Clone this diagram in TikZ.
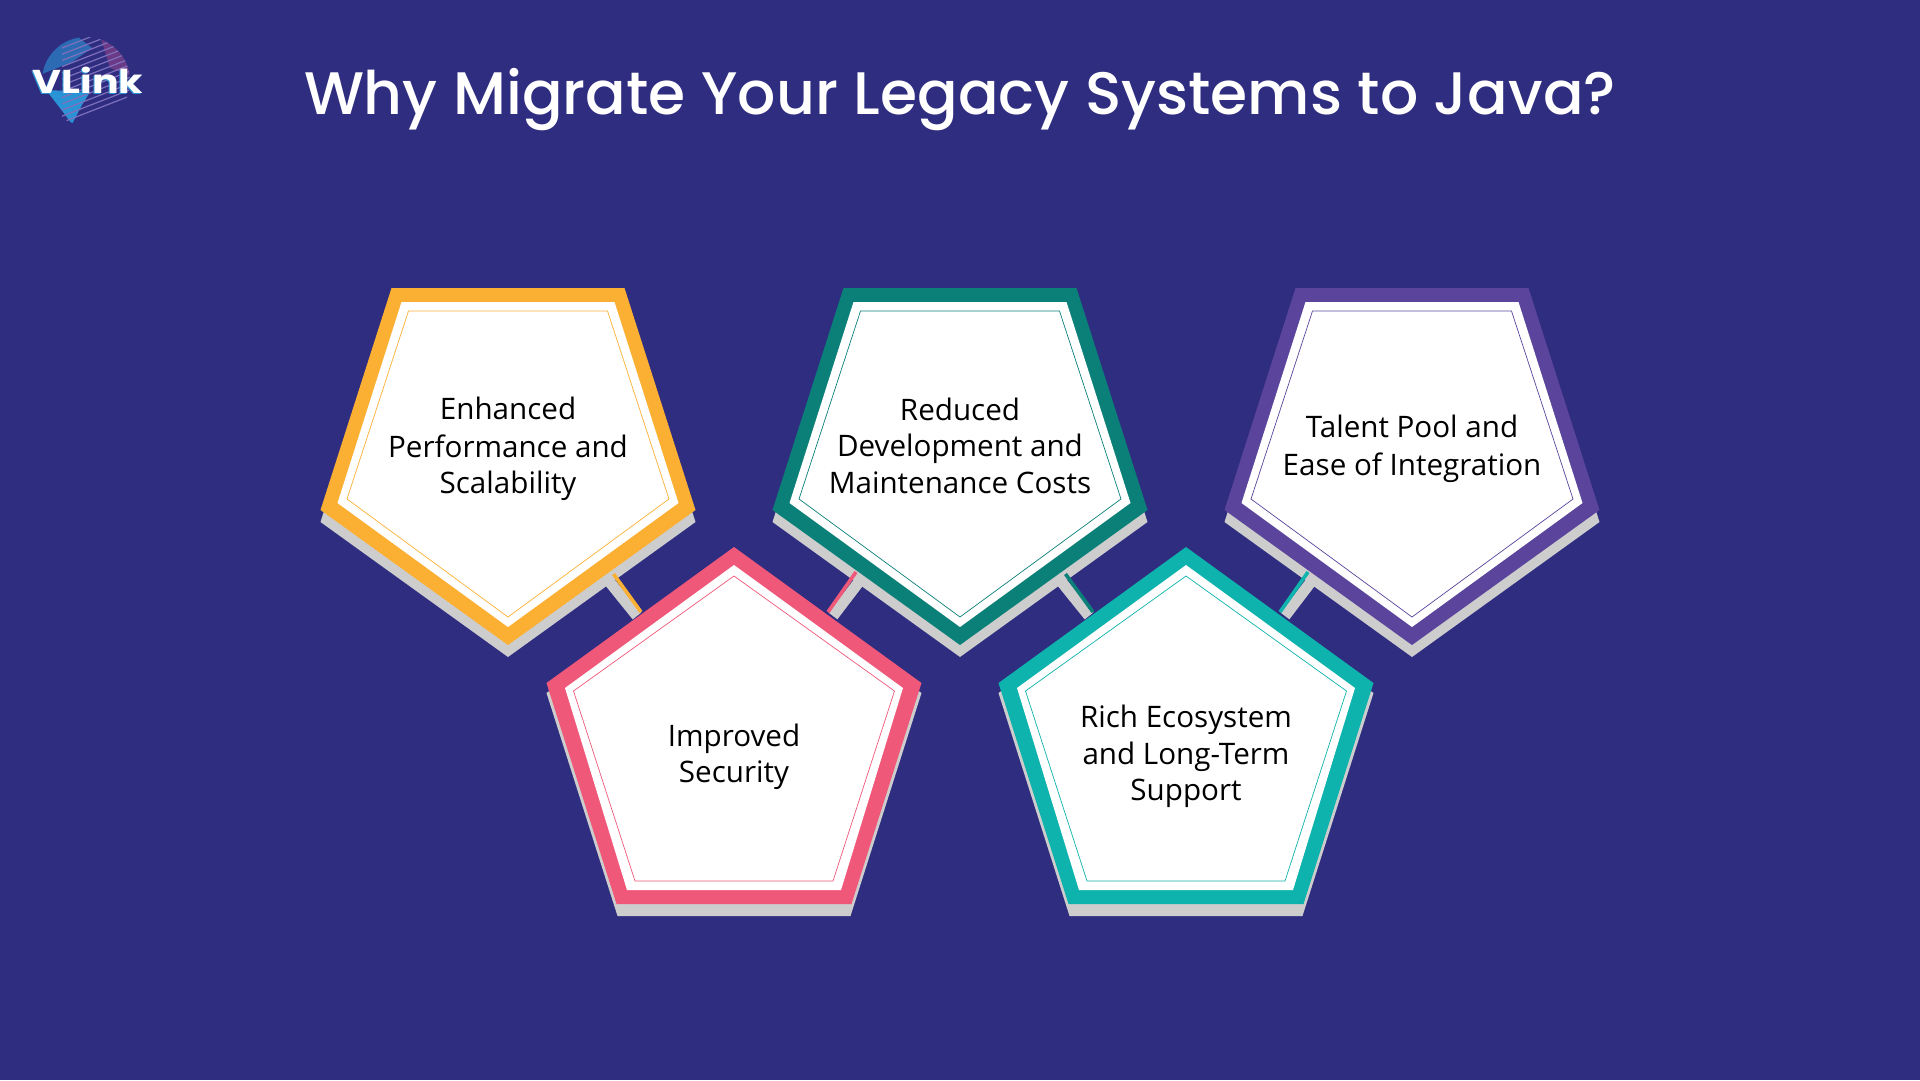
\documentclass[tikz,border=0pt]{standalone}
\usepackage{fontspec}
\setmainfont{Open Sans}
\newfontfamily\titlefont{Poppins}[UprightFont=*-Medium,BoldFont=*-Bold]
\newfontfamily\logofont{Poppins}[UprightFont=*-Bold]
\usetikzlibrary{calc}
\definecolor{bgc}{HTML}{2F2D80}
\definecolor{yel}{HTML}{FBB034}
\definecolor{pnk}{HTML}{F0587A}
\definecolor{grn}{HTML}{0B8079}
\definecolor{pur}{HTML}{5B449C}
\definecolor{tea}{HTML}{0DB3AC}
\definecolor{shd}{HTML}{CDCDCD}
\definecolor{globeblue}{HTML}{2A93D5}
\definecolor{globeplum}{HTML}{6A3A86}
\definecolor{globeline}{HTML}{7F70BE}
\newcommand{\lnstrut}{\rule[-14pt]{0pt}{28pt}}
% down-pointing pentagon layers: centre x
\newcommand{\shadowDown}[1]{\fill[shd,shift={(#1,0)}] (-116.5,300)--(116.5,300)--(187.5,522)--(0,657)--(-187.5,522)--cycle;}
\newcommand{\bodyDown}[2]{%
 \fill[#2,shift={(#1,0)}] (-116.5,288)--(116.5,288)--(187.5,510)--(0,645)--(-187.5,510)--cycle;
 \fill[white,shift={(#1,0)}] (-106.5,302)--(106.5,302)--(170.5,503)--(0,627)--(-170.5,503)--cycle;
 \draw[#2,thinline,shift={(#1,0)}] (-99.5,311)--(99.5,311)--(161,499)--(0,617)--(-161,499)--cycle;}
% up-pointing pentagon layers
\newcommand{\shadowUp}[1]{\fill[shd,shift={(#1,0)}] (0,559)--(187.5,693)--(116.5,916)--(-116.5,916)--(-187.5,693)--cycle;}
\newcommand{\bodyUp}[2]{%
 \fill[#2,shift={(#1,0)}] (0,547)--(187.5,683)--(117.5,904)--(-117.5,904)--(-187.5,683)--cycle;
 \fill[white,shift={(#1,0)}] (0,565)--(169,688)--(107,890)--(-107,890)--(-169,688)--cycle;
 \draw[#2,thinline,shift={(#1,0)}] (0,576)--(160.5,691)--(99,881)--(-99,881)--(-160.5,691)--cycle;}
\tikzset{
 x=1pt,y=-1pt,
 thinline/.style={line width=0.7pt,line join=miter},
 label/.style={font=\fontsize{29.6}{36.5}\selectfont,text=black,align=center,inner sep=0pt},
 linkgray/.style={shd,line width=11pt},
 linktint/.style={line width=3.6pt},
}
\begin{document}
\begin{tikzpicture}
\useasboundingbox (0,0) rectangle (1920,1080);
\fill[bgc] (0,0) rectangle (1920,1080);
% logo globe
\begin{scope}
 \clip (86,81) circle (44);
 \fill[globeblue!60!bgc] (42,50) -- (78,37) -- (92,48) -- (72,62) -- (42,74) -- cycle;
 \fill[globeplum] (100,36) -- (132,46) -- (132,76) -- (110,68) -- cycle;
 \fill[globeblue] (46,90) -- (90,92) -- (82,105) -- (72,124) -- (60,108) -- cycle;
 \foreach \k in {0,...,12}{
   \draw[globeline,line width=1.2pt] (62,{48+\k*6.2}) -- +(72,-28);
 }
\end{scope}
\node[inner sep=0pt,text=globeblue] (logoshadow) at (87,81.5) {\logofont\fontsize{33}{33}\selectfont\scalebox{1.2}[1]{VLink}};
\node[inner sep=0pt,text=white] (logotext) at (88,80.5) {\logofont\fontsize{33}{33}\selectfont\scalebox{1.2}[1]{VLink}};
% title
\node[inner sep=0pt,text=white,anchor=base] (title) at (960,114) {\titlefont\fontsize{60}{60}\selectfont Why Migrate Your Legacy Systems to Java?};
% shadows
\shadowDown{508}\shadowDown{960}\shadowDown{1412}
\shadowUp{734}\shadowUp{1186}
% connectors
\coordinate (a1) at (610,582.5); \coordinate (a2) at (637,616);
\coordinate (t1) at (613.5,574); \coordinate (t2) at (641,612);
\coordinate (b1) at (860,580.5); \coordinate (b2) at (833,616);
\coordinate (u1) at (856,572); \coordinate (u2) at (828,612);
\coordinate (c1) at (1062,582.5); \coordinate (c2) at (1089,616);
\coordinate (v1) at (1065.5,574); \coordinate (v2) at (1093,612);
\coordinate (d1) at (1312,580.5); \coordinate (d2) at (1285,616);
\coordinate (w1) at (1308,572); \coordinate (w2) at (1280,612);
\draw[linkgray] (a1)--(a2); \draw[linktint,yel] (t1)--(t2);
\draw[linkgray] (b1)--(b2); \draw[linktint,pnk] (u1)--(u2);
\draw[linkgray] (c1)--(c2); \draw[linktint,grn] (v1)--(v2);
\draw[linkgray] (d1)--(d2); \draw[linktint,tea] (w1)--(w2);
% bodies
\bodyDown{508}{yel}\bodyDown{960}{grn}\bodyDown{1412}{pur}
\bodyUp{734}{pnk}\bodyUp{1186}{tea}
% labels
\node[label] (n1) at (508,452.5) {\lnstrut Enhanced\\Performance and\\\lnstrut Scalability};
\node[label] (n2) at (960,452.5) {\lnstrut Reduced\\Development and\\\lnstrut Maintenance Costs};
\node[label] (n3) at (1412,452.5) {\lnstrut Talent Pool and\\\lnstrut Ease of Integration};
\node[label] (n4) at (734,760) {\lnstrut Improved\\\lnstrut Security};
\node[label] (n5) at (1186,760) {\lnstrut Rich Ecosystem\\and Long-Term\\\lnstrut Support};
\end{tikzpicture}
\end{document}
